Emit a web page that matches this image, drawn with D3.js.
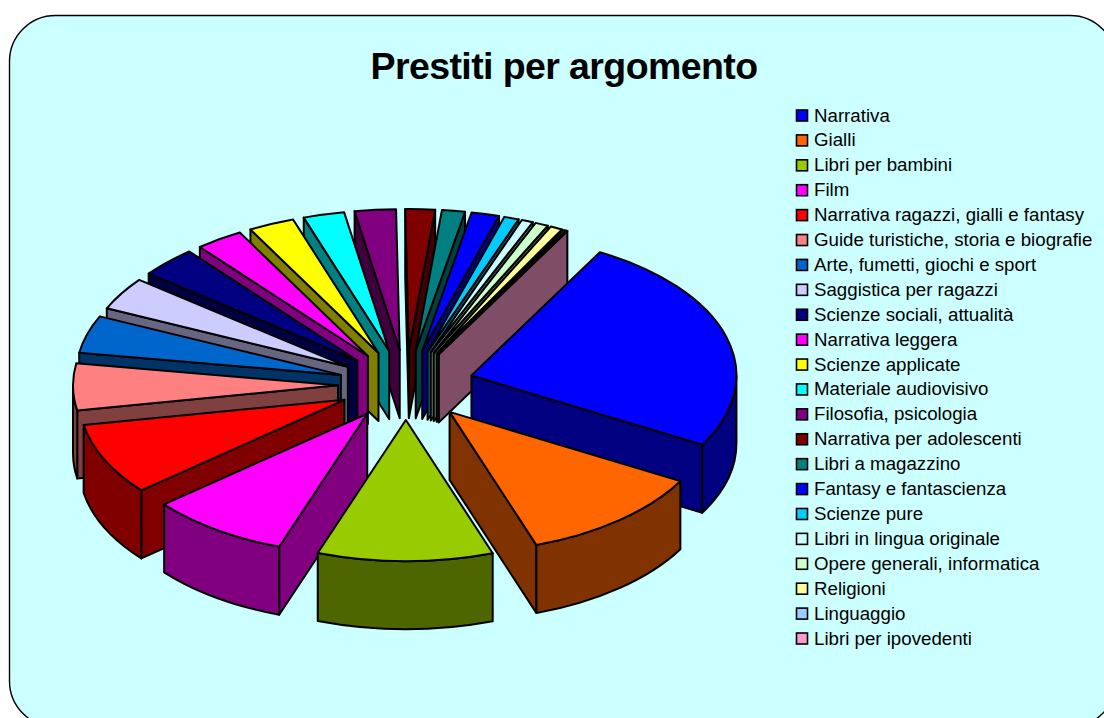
<!DOCTYPE html>
<html>
<head>
<meta charset="utf-8">
<script src="https://cdn.jsdelivr.net/npm/d3@7"></script>
<style>
html,body{margin:0;padding:0;background:#fff;overflow:hidden;}
text{font-family:"Liberation Sans",Arial,sans-serif;fill:#000;}
</style>
</head>
<body>
<svg id="chart" width="1104" height="718"></svg>
<script>
//prestiti per argomento, exploded 3d pie

var categories = ["Narrativa","Gialli","Libri per bambini","Film","Narrativa ragazzi, gialli e fantasy",
	"Guide turistiche, storia e biografie","Arte, fumetti, giochi e sport","Saggistica per ragazzi",
	"Scienze sociali, attualità","Narrativa leggera","Scienze applicate","Materiale audiovisivo",
	"Filosofia, psicologia","Narrativa per adolescenti","Libri a magazzino","Fantasy e fantascienza",
	"Scienze pure","Libri in lingua originale","Opere generali, informatica","Religioni","Linguaggio",
	"Libri per ipovedenti"];
var values = [25.1,11.5,10.7,8.5,8.25,5.35,4.3,3.75,3.5,2.9,2.8,2.5,2.5,1.8,1.4,1.7,0.9,0.7,0.8,0.75,0.17,0.05];
var colors = ["#0000FF","#FF6600","#99CC00","#FF00FF","#FF0000","#FF8080","#0066CC","#CCCCFF","#000080",
	"#FF00FF","#FFFF00","#00FFFF","#800080","#800000","#008080","#0000FF","#00CCFF","#CCFFFF","#CCFFCC",
	"#FFFF99","#99CCFF","#FF99CC"];

var cx = 406, cy = 385;
var rx = 265, ry = 141;
var explodeX = 68, explodeY = 35;
var depth = 68;
var firstAngle = 29*Math.PI/180;

var svg = d3.select("#chart");

svg.append("rect")
	.attr("x",9.5).attr("y",15.5)
	.attr("width",1106.5).attr("height",711.5)
	.attr("rx",46).attr("ry",46)
	.attr("fill","#CCFFFF").attr("stroke","#000").attr("stroke-width",1.4);

svg.append("text")
	.attr("x",564).attr("y",79)
	.attr("text-anchor","middle")
	.attr("font-size",37.5).attr("font-weight","bold")
	.style("letter-spacing","-0.6px")
	.text("Prestiti per argomento");

var pie = d3.pie().sort(null).startAngle(firstAngle).endAngle(firstAngle+2*Math.PI);
var slices = pie(values).map(function(d,i){
	d.name = categories[i];
	d.color = colors[i];
	d.mid = (d.startAngle+d.endAngle)/2;
	d.ax = cx + explodeX*Math.sin(d.mid);
	d.ay = cy - explodeY*Math.cos(d.mid);
	return d;
});

function rim(d,a){
	return [d.ax+rx*Math.sin(a), d.ay-ry*Math.cos(a)];
}

function topPath(d){
	var p = d3.path();
	var s = rim(d,d.startAngle), e = rim(d,d.endAngle);
	p.moveTo(d.ax,d.ay);
	p.lineTo(s[0],s[1]);
	return p.toString()+"A"+rx+","+ry+" 0 "+((d.endAngle-d.startAngle)>Math.PI?1:0)+" 1 "+e[0]+","+e[1]+"Z";
}

function sidePath(d,a){
	var r = rim(d,a);
	var p = d3.path();
	p.moveTo(d.ax,d.ay);
	p.lineTo(r[0],r[1]);
	p.lineTo(r[0],r[1]+depth);
	p.lineTo(d.ax,d.ay+depth);
	p.closePath();
	return p.toString();
}

// only the part of the rim facing us gets a wall (90 to 270 deg, plus a turn)
function rimPath(d){
	var parts = [];
	[[Math.PI/2,1.5*Math.PI],[2.5*Math.PI,3.5*Math.PI]].forEach(function(front){
		var a0 = Math.max(d.startAngle,front[0]), a1 = Math.min(d.endAngle,front[1]);
		if(a1<=a0) return;
		var s = rim(d,a0), e = rim(d,a1);
		parts.push("M"+s[0]+","+s[1]+"A"+rx+","+ry+" 0 0 1 "+e[0]+","+e[1]
			+"L"+e[0]+","+(e[1]+depth)+"A"+rx+","+ry+" 0 0 0 "+s[0]+","+(s[1]+depth)+"Z");
	});
	return parts.join("");
}

function dark(c){
	var r = d3.rgb(c);
	return d3.rgb(r.r/2,r.g/2,r.b/2).formatHex();
}

// back to front
var order = slices.slice().sort(function(a,b){ return -Math.cos(a.mid) - -Math.cos(b.mid); });

var plot = svg.append("g").attr("stroke","#000").attr("stroke-width",2).attr("stroke-linejoin","round");

order.forEach(function(d){
	var g = plot.append("g").attr("class","slice");
	// start edge shows on the left half, end edge on the right half
	if(Math.sin(d.startAngle)<0)
		g.append("path").attr("d",sidePath(d,d.startAngle)).attr("fill",dark(d.color));
	if(Math.sin(d.endAngle)>0)
		g.append("path").attr("d",sidePath(d,d.endAngle)).attr("fill",dark(d.color));
	var w = rimPath(d);
	if(w)
		g.append("path").attr("d",w).attr("fill",dark(d.color));
	g.append("path").attr("d",topPath(d)).attr("fill",d.color);
});

var legendY = d3.scalePoint().domain(categories).range([115,638]);

var legend = svg.append("g").selectAll("g").data(categories).join("g")
	.attr("transform",function(d){ return "translate(0,"+legendY(d)+")"; });
legend.append("rect")
	.attr("x",796.5).attr("y",-5)
	.attr("width",11).attr("height",11)
	.attr("fill",function(d,i){ return colors[i]; })
	.attr("stroke","#000").attr("stroke-width",1.6);
legend.append("text")
	.attr("x",814).attr("y",6.5)
	.attr("font-size",18.7)
	.text(function(d){ return d; });
</script>
</body>
</html>
